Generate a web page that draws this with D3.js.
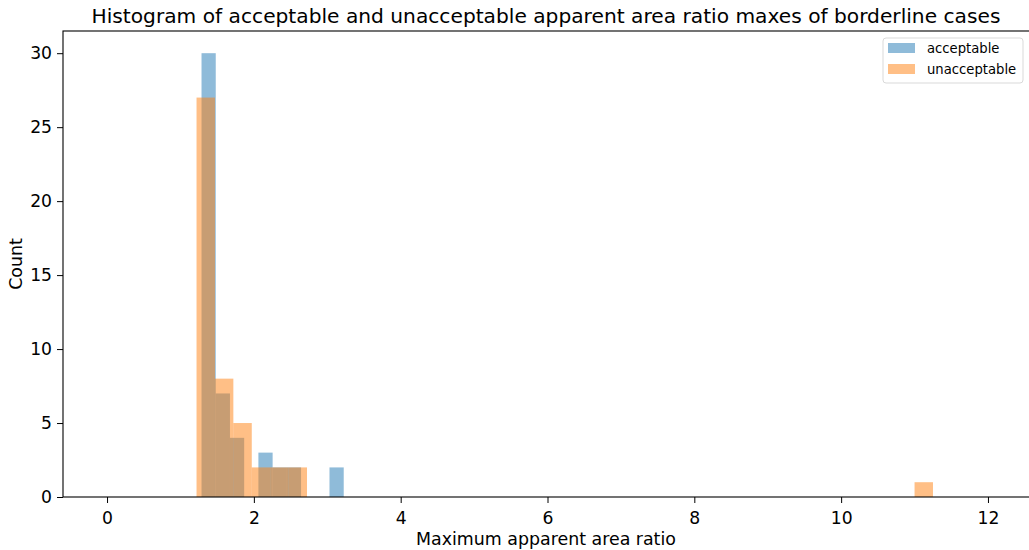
<!DOCTYPE html>
<html>
<head>
<meta charset="utf-8">
<script src="https://cdn.jsdelivr.net/npm/d3@7"></script>
<style>
  body { margin: 0; background: #fff; }
  text { font-family: "DejaVu Sans", sans-serif; fill: #000; }
</style>
</head>
<body>
<div id="chart"></div>
<script>
// histogram bins
var acceptStart = 1.287;
var acceptWidth = 0.1937;
var acceptCounts = [30, 7, 4, 0, 3, 2, 2, 0, 0, 2];

var unaccStart = 1.219;
var unaccWidth = 0.2508;
var unaccCounts = [27, 8, 5, 2, 2, 2, 0, 0, 0, 0,
                   0, 0, 0, 0, 0, 0, 0, 0, 0, 0,
                   0, 0, 0, 0, 0, 0, 0, 0, 0, 0,
                   0, 0, 0, 0, 0, 0, 0, 0, 0, 1];

var xTicks = [0, 2, 4, 6, 8, 10, 12];
var yTicks = [0, 5, 10, 15, 20, 25, 30];
var seriesNames = ["acceptable", "unacceptable"];
var seriesColors = ["#1f77b4", "#ff7f0e"];

var width = 1029;
var height = 550;
var margin = {left: 63, right: -3, top: 31, bottom: 53};

var svg = d3.select("#chart")
	.append("svg")
	.attr("width", width)
	.attr("height", height);

var xScale = d3.scaleLinear()
	.domain([-0.6, 12.6])
	.range([margin.left, width - margin.right]);

var yScale = d3.scaleLinear()
	.domain([0, 31.5])
	.range([height - margin.bottom, margin.top]);

//turn counts into rects
function toBins(start, w, counts)
{
	return counts.map(function(c, i){
		return {x0: start + i * w, x1: start + (i + 1) * w, count: c};
	});
}

var series = [toBins(acceptStart, acceptWidth, acceptCounts), toBins(unaccStart, unaccWidth, unaccCounts)];

series.forEach(function(bins, s){
	svg.append("g")
		.selectAll("rect")
		.data(bins.filter(function(d){ return d.count > 0; }))
		.enter()
		.append("rect")
		.attr("x", function(d){ return xScale(d.x0); })
		.attr("width", function(d){ return xScale(d.x1) - xScale(d.x0); })
		.attr("y", function(d){ return yScale(d.count); })
		.attr("height", function(d){ return yScale(0) - yScale(d.count); })
		.attr("fill", seriesColors[s])
		.attr("fill-opacity", 0.5);
});

//axes
var xAxis = d3.axisBottom(xScale).tickValues(xTicks).tickSize(6).tickPadding(5);
var yAxis = d3.axisLeft(yScale).tickValues(yTicks).tickSize(6).tickPadding(5);

var gx = svg.append("g")
	.attr("transform", "translate(0," + (height - margin.bottom) + ")")
	.call(xAxis);
var gy = svg.append("g")
	.attr("transform", "translate(" + margin.left + ",0)")
	.call(yAxis);

[gx, gy].forEach(function(g){
	g.select(".domain").remove();
	g.selectAll("line").attr("stroke", "#000").attr("stroke-width", 1);
	g.selectAll("text").attr("font-size", "17.2px").attr("font-family", "DejaVu Sans").attr("fill", "#000");
});
gx.selectAll("text").attr("dy", "0.95em");

//spines
svg.append("rect")
	.attr("x", margin.left)
	.attr("y", margin.top)
	.attr("width", width - margin.right - margin.left)
	.attr("height", height - margin.bottom - margin.top)
	.attr("fill", "none")
	.attr("stroke", "#000")
	.attr("stroke-width", 1.1);

//title and labels
svg.append("text")
	.attr("x", 546)
	.attr("y", 23)
	.attr("text-anchor", "middle")
	.attr("font-size", "20.2px")
	.text("Histogram of acceptable and unacceptable apparent area ratio maxes of borderline cases");

svg.append("text")
	.attr("x", 546)
	.attr("y", 545)
	.attr("text-anchor", "middle")
	.attr("font-size", "17.4px")
	.text("Maximum apparent area ratio");

svg.append("text")
	.attr("transform", "translate(22," + ((margin.top + height - margin.bottom) / 2) + ") rotate(-90)")
	.attr("text-anchor", "middle")
	.attr("font-size", "17.4px")
	.text("Count");

//legend
var legend = svg.append("g").attr("transform", "translate(883,38)");
legend.append("rect")
	.attr("width", 140)
	.attr("height", 45)
	.attr("rx", 3)
	.attr("fill", "#fff")
	.attr("fill-opacity", 0.8)
	.attr("stroke", "#d9d9d9");

seriesNames.forEach(function(name, i){
	legend.append("rect")
		.attr("x", 5)
		.attr("y", 5 + i * 21)
		.attr("width", 27)
		.attr("height", 10)
		.attr("fill", seriesColors[i])
		.attr("fill-opacity", 0.5);
	legend.append("text")
		.attr("x", 44)
		.attr("y", 15 + i * 21)
		.attr("font-size", "13.2px")
		.text(name);
});
</script>
</body>
</html>
